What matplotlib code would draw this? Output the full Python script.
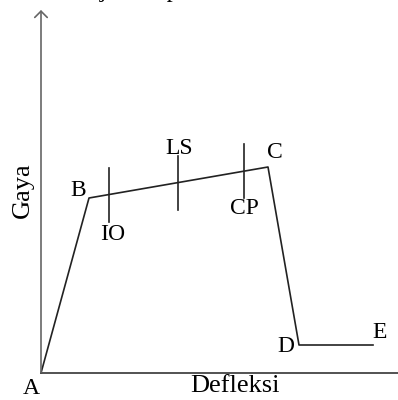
import matplotlib.pyplot as plt

# Backbone curve of the force-deflection relation (deflection, force)
points = ["A", "B", "C", "D", "E"]
deflection = [0, 48, 227, 258, 332]
force = [0, 175, 206, 28, 28]

# Performance levels marked on the B-C branch
levels = ["IO", "LS", "CP"]
level_x = [68, 137, 203]

FONT = "Liberation Serif"
LBL = 17
AX = 19

fig = plt.figure(figsize=(3.98, 4.0), dpi=100)
ax = fig.add_axes([0, 0, 1, 1])
ax.set_xlim(-41, 357)
ax.set_ylim(-27, 373)
ax.axis("off")

# axes: vertical arrow and horizontal line
ax.annotate("", xy=(0, 363), xytext=(0, 0),
            arrowprops=dict(arrowstyle="->,head_length=0.45,head_width=0.45",
                            color="#666666", lw=1.2, shrinkA=0, shrinkB=0),
            annotation_clip=False)
ax.plot([0, 357], [0, 0], color="#444444", lw=1.3)

ax.plot(deflection, force, color="#222222", lw=1.2)

# level ticks crossing the B-C segment
bx, by = deflection[1], force[1]
cx, cy = deflection[2], force[2]
for name, x in zip(levels, level_x):
    y = by + (cy - by) * (x - bx) / (cx - bx)
    ax.plot([x, x], [y - 27, y + 27], color="#222222", lw=1.2)

# point labels
def label(s, x, y, size=LBL, **kw):
    ax.text(x, y, s, fontsize=size, family=FONT, ha="center", va="center", **kw)

label("A", -10, -15)
label("B", 37, 182)
label("C", 234, 221)
label("D", 245, 27)
label("E", 339, 40)
label("IO", 72, 139)
label("LS", 138, 224)
label("CP", 203, 164)

label("Defleksi", 194, -13, size=AX)
label("Gaya", -18, 183, size=AX, rotation=90)

# caption cut off at the top edge of the picture (only descenders show)
ax.text(9, 376, "kinerja komponen", fontsize=17.5, family=FONT,
        ha="left", va="baseline", clip_on=False)

fig.savefig("out.png", dpi=100)
